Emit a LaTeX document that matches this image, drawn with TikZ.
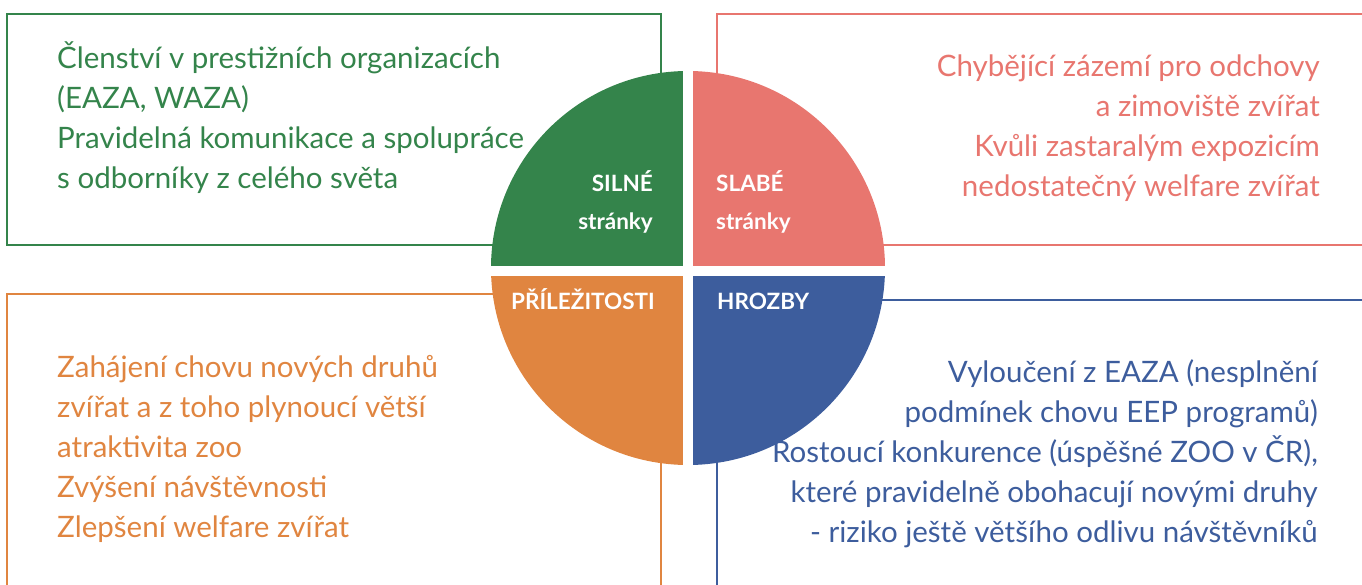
\documentclass[tikz,border=0pt]{standalone}
\usepackage{fontspec}
\setmainfont{Lato}
\definecolor{swgreen}{HTML}{34844B}
\definecolor{swpink}{HTML}{E8766F}
\definecolor{sworange}{HTML}{E08540}
\definecolor{swblue}{HTML}{3D5D9D}
\begin{document}
\begin{tikzpicture}[x=1pt,y=-1pt,
    frame/.style={line width=2.5pt},
    body/.style={font=\fontsize{29.5}{40}\selectfont,inner sep=0pt},
    quadlabel/.style={font=\bfseries\fontsize{22.5}{38}\selectfont,text=white,inner sep=0pt}]
    \useasboundingbox (0,0) rectangle (1362,585);
    \clip (0,0) rectangle (1362,585);
    % frames behind the circle
    \draw[frame,swgreen] (7,14) rectangle (661,245);
    \draw[frame,swpink] (1400,14) -- (717,14) -- (717,245) -- (1400,245);
    \draw[frame,sworange] (7,620) -- (7,294) -- (661,294) -- (661,620);
    \draw[frame,swblue] (717,620) -- (717,300) -- (1400,300);
    % circle in four quadrants
    \coordinate (O) at (688,268);
    \fill[swgreen] (O) -- ++(180:197) arc[start angle=180,end angle=270,radius=197] -- cycle;
    \fill[swpink] (O) -- ++(270:197) arc[start angle=270,end angle=360,radius=197] -- cycle;
    \fill[swblue] (O) -- ++(0:197) arc[start angle=0,end angle=90,radius=197] -- cycle;
    \fill[sworange] (O) -- ++(90:197) arc[start angle=90,end angle=180,radius=197] -- cycle;
    \coordinate (vtop) at (688,60);
    \coordinate (vbot) at (688,475);
    \coordinate (hleft) at (480,271);
    \coordinate (hright) at (895,271);
    \draw[white,line width=10pt] (vtop) -- (vbot);
    \draw[white,line width=10pt] (hleft) -- (hright);
    % quadrant labels (base = last line)
    \node[quadlabel,align=right,anchor=base east] (silne) at (653,230) {SILNÉ\\stránky};
    \node[quadlabel,align=left,anchor=base west] (slabe) at (716,230) {SLABÉ\\stránky};
    \node[quadlabel,anchor=base east] (prilez) at (655,309) {PŘÍLEŽITOSTI};
    \node[quadlabel,anchor=base west] (hrozby) at (717,309) {HROZBY};
    % texts (base = last line)
    \node[body,text=swgreen,align=left,anchor=base west] (strengths) at (57,189)
        {Členství v prestižních organizacích\\(EAZA, WAZA)\\Pravidelná komunikace a spolupráce\\s odborníky z celého světa};
    \node[body,text=swpink,align=right,anchor=base east] (weaknesses) at (1320,197)
        {Chybějící zázemí pro odchovy\\a zimoviště zvířat\\Kvůli zastaralým expozicím\\nedostatečný welfare zvířat};
    \node[body,text=sworange,align=left,anchor=base west] (chances) at (57,537)
        {Zahájení chovu nových druhů\\zvířat a z toho plynoucí větší\\atraktivita zoo\\Zvýšení návštěvnosti\\Zlepšení welfare zvířat};
    \node[body,text=swblue,align=right,anchor=base east] (threats) at (1318,542)
        {Vyloučení z EAZA (nesplnění\\podmínek chovu EEP programů)\\Rostoucí konkurence (úspěšné ZOO v ČR),\\které pravidelně obohacují novými druhy\\- riziko ještě většího odlivu návštěvníků};
\end{tikzpicture}
\end{document}
